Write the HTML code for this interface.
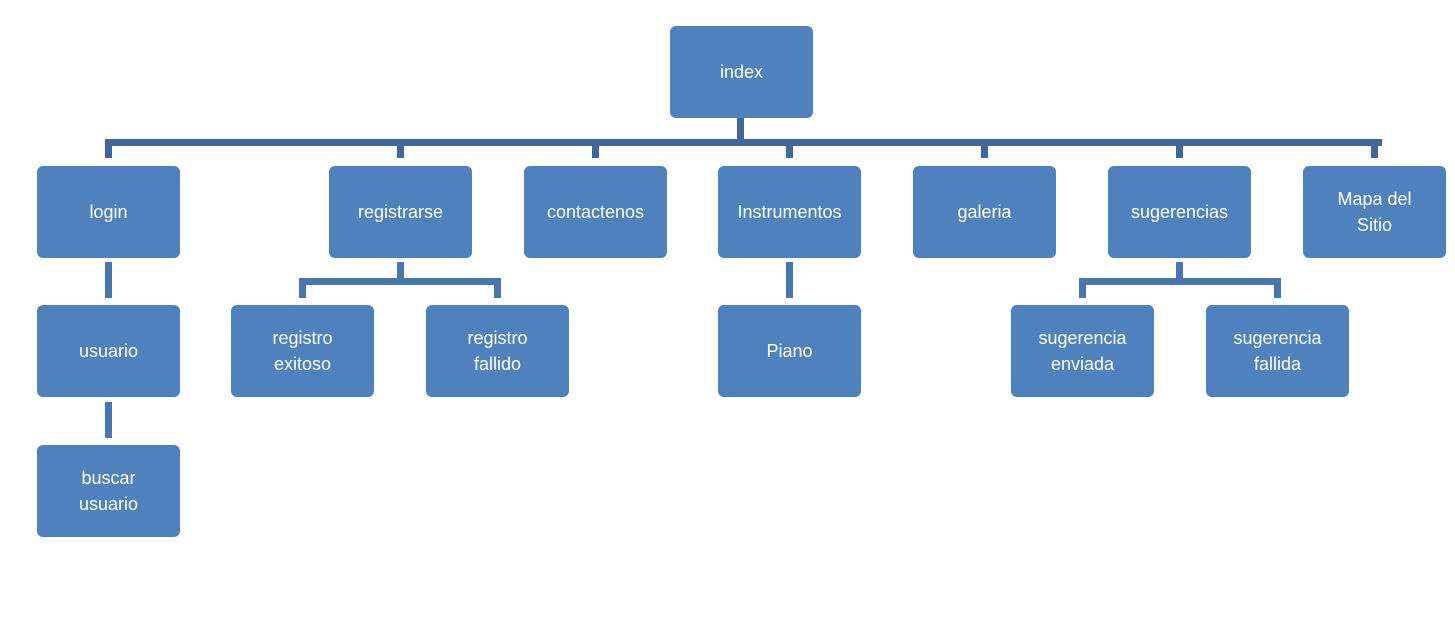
<!DOCTYPE html>
<html><head><style>
body{margin:0;width:1455px;height:625px;background:#fff;position:relative;overflow:hidden;font-family:"Liberation Sans",sans-serif}
.b{position:absolute;width:143px;height:92px;background:#4f81bd;border-radius:6px;color:#fff;font-size:18px;display:flex;align-items:center;justify-content:center;text-align:center;line-height:26px}
.l{position:absolute;background:#41689a}
</style></head><body>
<div class="l" style="left:737px;top:118px;width:7px;height:28px"></div>
<div class="l" style="left:105px;top:139px;width:1277px;height:7px"></div>
<div class="l" style="left:105px;top:139px;width:7px;height:19px"></div>
<div class="l" style="left:397px;top:139px;width:7px;height:19px"></div>
<div class="l" style="left:592px;top:139px;width:7px;height:19px"></div>
<div class="l" style="left:786px;top:139px;width:7px;height:19px"></div>
<div class="l" style="left:981px;top:139px;width:7px;height:19px"></div>
<div class="l" style="left:1176px;top:139px;width:7px;height:19px"></div>
<div class="l" style="left:1371px;top:139px;width:7px;height:19px"></div>

<div class="l" style="left:105px;top:262px;width:7px;height:36px;background:#4a76ae"></div>
<div class="l" style="left:105px;top:402px;width:7px;height:36px;background:#4a76ae"></div>

<div class="l" style="left:397px;top:262px;width:7px;height:20px;background:#4a76ae"></div>
<div class="l" style="left:299px;top:278px;width:202px;height:7px;background:#4a76ae"></div>
<div class="l" style="left:299px;top:278px;width:7px;height:20px;background:#4a76ae"></div>
<div class="l" style="left:494px;top:278px;width:7px;height:20px;background:#4a76ae"></div>

<div class="l" style="left:786px;top:262px;width:7px;height:36px;background:#4a76ae"></div>

<div class="l" style="left:1176px;top:262px;width:7px;height:20px;background:#4a76ae"></div>
<div class="l" style="left:1079px;top:278px;width:202px;height:7px;background:#4a76ae"></div>
<div class="l" style="left:1079px;top:278px;width:7px;height:20px;background:#4a76ae"></div>
<div class="l" style="left:1274px;top:278px;width:7px;height:20px;background:#4a76ae"></div>

<div class="b" style="left:670px;top:26px">index</div>
<div class="b" style="left:37px;top:166px">login</div>
<div class="b" style="left:329px;top:166px">registrarse</div>
<div class="b" style="left:524px;top:166px">contactenos</div>
<div class="b" style="left:718px;top:166px">Instrumentos</div>
<div class="b" style="left:913px;top:166px">galeria</div>
<div class="b" style="left:1108px;top:166px">sugerencias</div>
<div class="b" style="left:1303px;top:166px">Mapa del<br>Sitio</div>
<div class="b" style="left:37px;top:305px">usuario</div>
<div class="b" style="left:231px;top:305px">registro<br>exitoso</div>
<div class="b" style="left:426px;top:305px">registro<br>fallido</div>
<div class="b" style="left:718px;top:305px">Piano</div>
<div class="b" style="left:1011px;top:305px">sugerencia<br>enviada</div>
<div class="b" style="left:1206px;top:305px">sugerencia<br>fallida</div>
<div class="b" style="left:37px;top:445px">buscar<br>usuario</div>
</body></html>
